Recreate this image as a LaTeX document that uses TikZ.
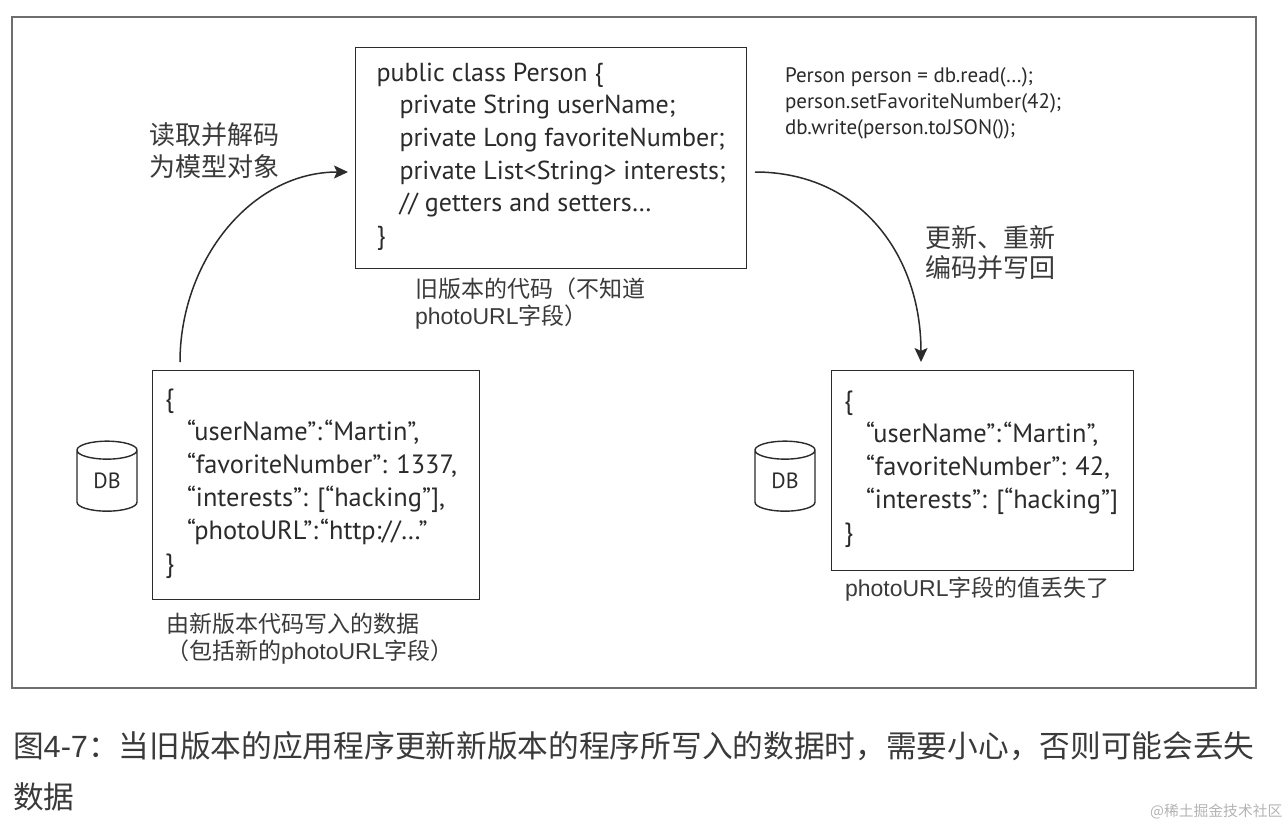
\documentclass[tikz,border=0pt]{standalone}
\usepackage{fontspec}
\usetikzlibrary{arrows.meta,shapes.geometric}
\setmainfont{PT Sans}
\newfontfamily\cjk{Noto Sans CJK SC}
\newfontfamily\lat{Liberation Sans}
\definecolor{ink}{HTML}{2B2B2B}
\definecolor{frameink}{HTML}{6E6E6E}
\definecolor{soft}{HTML}{3A3A3A}
\definecolor{wm}{HTML}{B4B4B4}
\newcommand{\fs}[2]{\fontsize{#1}{#2}\selectfont}
\newcommand{\ind}{\hspace*{23pt}}
\newcommand{\indj}{\hspace*{22pt}}
\newcommand{\cg}{\hspace{0.08em}}
\tikzset{
  page/.style={fill=white,draw=none},
  outerbox/.style={draw=frameink,line width=1.5pt},
  codebox/.style={draw=ink,line width=1.5pt,anchor=north west,inner sep=0pt},
  txt/.style={anchor=west,inner sep=0pt,outer sep=0pt,align=left,text=ink},
  label/.style={txt,text=soft},
  flow/.style={draw=ink,line width=1.5pt,-{Stealth[length=14pt,width=13pt,inset=3pt]}},
  dbcyl/.style={cylinder,shape border rotate=90,aspect=0.66,draw=ink,line width=1.4pt,
    minimum height=70pt,minimum width=60pt,inner sep=0pt,text=ink,font=\fs{22}{24}},
}
\begin{document}
\begin{tikzpicture}[x=1pt,y=-1pt]
\useasboundingbox (0,0) rectangle (1288,828);
\fill[page] (0,0) rectangle (1288,828);
\draw[outerbox] (12,17) rectangle (1256,688);

\node[codebox,minimum width=391pt,minimum height=221pt] (person) at (354.5,46.5) {};
\node[codebox,minimum width=327pt,minimum height=229pt] (newdata) at (151.5,369.5) {};
\node[codebox,minimum width=302pt,minimum height=200pt] (olddata) at (830.5,369.5) {};

\node[txt,font=\fs{26}{32.6}] (classcode) at (376.5,156.5) {public class Person \{\\
\ind private String userName;\\
\ind private Long favoriteNumber;\\
\ind private List<String> interests;\\
\ind // getters and setters…\\
\}};
\node[txt,font=\fs{21}{26}] (appcode) at (785,103) {Person person = db.read(…);\\
person.setFavoriteNumber(42);\\
db.write(person.toJSON());};
\node[txt,font=\fs{26.4}{33}] (newjson) at (165,484) {\{\\
\indj “userName”:\cg“Martin”,\\
\indj “favoriteNumber”: 1337,\\
\indj “interests”: [“hacking”],\\
\indj “photoURL”:\cg“http://…”\\
\}};
\node[txt,font=\fs{26.4}{33}] (oldjson) at (844,469) {\{\\
\indj “userName”:\cg“Martin”,\\
\indj “favoriteNumber”: 42,\\
\indj “interests”: [“hacking”]\\
\}};

\node[dbcyl] (dbleft) at (107,481) {DB};
\node[dbcyl] (dbright) at (785,481) {DB};

\node[label,font=\cjk\fs{26}{32}] (readlabel) at (149,151) {读取并解码\\为模型对象};
\node[label,font=\cjk\fs{26}{30}] (writelabel) at (925,253) {更新、重新\\编码并写回};
\node[label,font=\cjk\fs{23}{27}] (oldcap) at (415,304) {旧版本的代码（不知道\\{\lat photoURL}字段）};
\node[label,font=\cjk\fs{23}{27}] (newcap) at (166,638.5) {由新版本代码写入的数据\\（包括新的{\lat photoURL}字段）};
\node[label,font=\cjk\fs{23}{27}] (lostcap) at (845,589) {{\lat photoURL}字段的值丢失了};

\node[label,font=\cjk\fs{30.7}{51}] (caption) at (13,771) {图{\lat 4-7}：当旧版本的应用程序更新新版本的程序所写入的数据时，需要小心，否则可能会丢失\\数据};
\node[txt,text=wm,font=\cjk\fs{14.8}{20}] (mark) at (1150,811) {@稀土掘金技术社区};

\coordinate (readstart) at (180,362);
\coordinate (readend) at (348,172);
\coordinate (writestart) at (755,172);
\coordinate (writeend) at (921,362);
\draw[flow] (readstart) .. controls (180,262) and (250,172) .. (readend);
\draw[flow] (writestart) .. controls (860,172) and (921,255) .. (writeend);
\end{tikzpicture}
\end{document}
